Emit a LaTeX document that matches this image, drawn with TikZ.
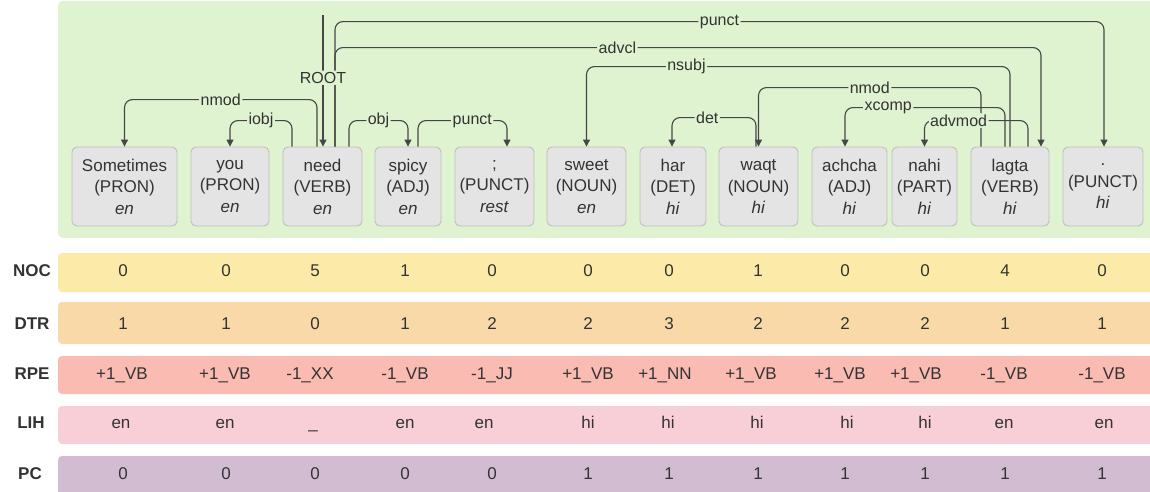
\documentclass[tikz,border=0pt]{standalone}
\usepackage{fontspec}
\setmainfont{Liberation Sans}
\usetikzlibrary{arrows.meta}
\definecolor{bggreen}{RGB}{223,243,209}
\definecolor{tokfill}{RGB}{228,228,228}
\definecolor{tokborder}{RGB}{190,190,190}
\definecolor{linec}{RGB}{70,70,70}
\definecolor{txt}{RGB}{51,51,51}
\definecolor{nocc}{RGB}{252,234,168}
\definecolor{dtrc}{RGB}{250,217,168}
\definecolor{rpec}{RGB}{249,187,178}
\definecolor{lihc}{RGB}{248,206,215}
\definecolor{pcc}{RGB}{209,188,210}
\begin{document}
\begin{tikzpicture}[x=1pt,y=-1pt,
  tok/.style={draw=tokborder, fill=tokfill, rounded corners=5pt, line width=0.9pt,
    minimum height=79pt, inner sep=0pt, align=center,
    font=\fontsize{17}{21.5}\selectfont, text=txt},
  dep/.style={draw=linec, line width=1.1pt, rounded corners=8pt,
    -{Triangle[length=7pt,width=7pt]}},
  deplabel/.style={fill=bggreen, inner sep=1.5pt, font=\fontsize{16}{16}\selectfont, text=txt},
  band/.style={rounded corners=4pt},
  rowlab/.style={font=\bfseries\fontsize{17}{17}\selectfont, text=txt, text height=12.2pt, text depth=0pt, inner sep=0pt},
  val/.style={font=\fontsize{17}{17}\selectfont, text=txt, text height=12.2pt, text depth=0pt, inner sep=0pt}]
\useasboundingbox (0,0) rectangle (1150,491);
\fill[white] (0,0) rectangle (1150,491);
% background
\fill[bggreen, rounded corners=5pt] (58,1) rectangle (1160,238);
% bands
\fill[nocc, band] (58,253) rectangle (1160,292);
\fill[dtrc, band] (58,302) rectangle (1160,344);
\fill[rpec, band] (58,356) rectangle (1160,394);
\fill[lihc, band] (58,406) rectangle (1160,444);
\fill[pcc, band] (58,456) rectangle (1160,500);
% tokens
\node[tok, minimum width=105pt] (t1) at (124.5,186.5) {Sometimes\\(PRON)\\\textit{en}};
\node[tok, minimum width=78pt] (t2) at (230,186.5) {you\\(PRON)\\\textit{en}};
\node[tok, minimum width=79pt] (t3) at (322.5,186.5) {need\\(VERB)\\\textit{en}};
\node[tok, minimum width=66pt] (t4) at (408,186.5) {spicy\\(ADJ)\\\textit{en}};
\node[tok, minimum width=79pt] (t5) at (494.5,186.5) {;\\(PUNCT)\\\textit{rest}};
\node[tok, minimum width=79pt] (t6) at (586.5,186.5) {sweet\\(NOUN)\\\textit{en}};
\node[tok, minimum width=66pt] (t7) at (673,186.5) {har\\(DET)\\\textit{hi}};
\node[tok, minimum width=79pt] (t8) at (758.5,186.5) {waqt\\(NOUN)\\\textit{hi}};
\node[tok, minimum width=75pt] (t9) at (849.5,186.5) {achcha\\(ADJ)\\\textit{hi}};
\node[tok, minimum width=65pt] (t10) at (924.5,186.5) {nahi\\(PART)\\\textit{hi}};
\node[tok, minimum width=78pt] (t11) at (1010,186.5) {lagta\\(VERB)\\\textit{hi}};
\node[tok, minimum width=80pt] (t12) at (1103,186.5) {.\\(PUNCT)\\\textit{hi}};
% dependency arcs
\draw[dep] ([xshift=12.5pt]t3.north) -- ++(0,-125) -| node[deplabel,pos=0.25] (l1) {punct} ([xshift=1pt]t12.north);
\draw[dep] ([xshift=12.5pt]t3.north) -- ++(0,-99) -| node[deplabel,pos=0.2] (l2) {advcl} ([xshift=31pt]t11.north);
\draw[dep] (t11.north) -- ++(0,-80) -| node[deplabel,pos=0.382] (l3) {nsubj} (t6.north);
\draw[dep] ([xshift=-29pt]t11.north) -- ++(0,-59) -| node[deplabel,pos=0.25] (l4) {nmod} (t8.north);
\draw[dep] ([xshift=-5pt]t11.north) -- ++(0,-39) -| node[deplabel,pos=0.365] (l5) {xcomp} ([xshift=-4.5pt]t9.north);
\draw[dep] ([xshift=18pt]t11.north) -- ++(0,-26) -| node[deplabel,pos=0.335] (l6) {advmod} (t10.north);
\draw[dep] ([xshift=-5.5pt]t3.north) -- ++(0,-47) -| node[deplabel,pos=0.25] (l7) {nmod} (t1.north);
\draw[dep] ([xshift=-30.5pt]t3.north) -- ++(0,-26) -| node[deplabel,pos=0.25] (l8) {iobj} (t2.north);
\draw[dep] ([xshift=26.5pt]t3.north) -- ++(0,-26) -| node[deplabel,pos=0.25] (l9) {obj} (t4.north);
\draw[dep] ([xshift=10pt]t4.north) -- ++(0,-26) -| node[deplabel,pos=0.305] (l10) {punct} ([xshift=12.5pt]t5.north);
\draw[dep] ([xshift=-2.5pt]t8.north) -- ++(0,-29) -| node[deplabel,pos=0.29] (l11) {det} ([xshift=-1pt]t7.north);
\coordinate (roottop) at (323,15);
\draw[dep] (roottop) -- node[deplabel,pos=0.477] (l12) {ROOT} ([xshift=0.5pt]t3.north);
% row labels
\node[rowlab] (rNOC) at (32,270.6) {NOC};
\node[rowlab] (rDTR) at (32,323.2) {DTR};
\node[rowlab] (rRPE) at (32,373.2) {RPE};
\node[rowlab] (rLIH) at (31,422.2) {LIH};
\node[rowlab] (rPC) at (30,473.2) {PC};
% values
\foreach \x/\v [count=\i] in {123/0,226/0,315/5,405/1,492/0,588/0,669/0,758/1,845/0,925/0,1005/4,1102/0}
  \node[val] (noc\i) at (\x,270.6) {\v};
\foreach \x/\v [count=\i] in {123/1,226/1,315/0,405/1,492/2,588/2,669/3,758/2,845/2,925/2,1005/1,1102/1}
  \node[val] (dtr\i) at (\x,323.2) {\v};
\foreach \x/\v [count=\i] in {122/+1\_VB,225/+1\_VB,310/-1\_XX,405/-1\_VB,492/-1\_JJ,588/+1\_VB,665/+1\_NN,751/+1\_VB,840/+1\_VB,916/+1\_VB,1004/-1\_VB,1102/-1\_VB}
  \node[val] (rpe\i) at (\x,373.2) {\v};
\foreach \x/\v [count=\i] in {121/en,225/en,313/\_,405/en,484/en,588/hi,668/hi,757/hi,847/hi,925/hi,1004/en,1104/en}
  \node[val] (lih\i) at (\x,422.2) {\v};
\foreach \x/\v [count=\i] in {123/0,226/0,315/0,405/0,492/0,588/1,669/1,758/1,845/1,925/1,1005/1,1102/1}
  \node[val] (pc\i) at (\x,473.2) {\v};
\end{tikzpicture}
\end{document}
